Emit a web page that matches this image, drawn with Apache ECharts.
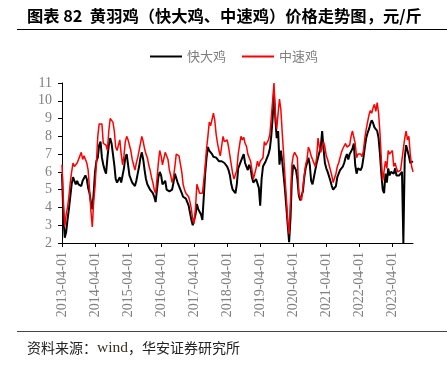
<!DOCTYPE html>
<html><head><meta charset="utf-8">
<script src="https://cdn.jsdelivr.net/npm/echarts@6/dist/echarts.min.js"></script>
<style>html,body{margin:0;padding:0;background:#fff}#c{width:447px;height:367px}</style>
</head><body><div id="c"></div>
<script>
// Semi-monthly observation dates
const dates = [
"2013-04-01","2013-04-16","2013-05-01","2013-05-16","2013-06-01","2013-06-16","2013-07-01","2013-07-16","2013-08-01","2013-08-16","2013-09-01","2013-09-16","2013-10-01","2013-10-16","2013-11-01","2013-11-16","2013-12-01","2013-12-16",
"2014-01-01","2014-01-16","2014-02-01","2014-02-16","2014-03-01","2014-03-16","2014-04-01","2014-04-16","2014-05-01","2014-05-16","2014-06-01","2014-06-16","2014-07-01","2014-07-16","2014-08-01","2014-08-16","2014-09-01","2014-09-16","2014-10-01","2014-10-16","2014-11-01","2014-11-16","2014-12-01","2014-12-16",
"2015-01-01","2015-01-16","2015-02-01","2015-02-16","2015-03-01","2015-03-16","2015-04-01","2015-04-16","2015-05-01","2015-05-16","2015-06-01","2015-06-16","2015-07-01","2015-07-16","2015-08-01","2015-08-16","2015-09-01","2015-09-16","2015-10-01","2015-10-16","2015-11-01","2015-11-16","2015-12-01","2015-12-16",
"2016-01-01","2016-01-16","2016-02-01","2016-02-16","2016-03-01","2016-03-16","2016-04-01","2016-04-16","2016-05-01","2016-05-16","2016-06-01","2016-06-16","2016-07-01","2016-07-16","2016-08-01","2016-08-16","2016-09-01","2016-09-16","2016-10-01","2016-10-16","2016-11-01","2016-11-16","2016-12-01","2016-12-16",
"2017-01-01","2017-01-16","2017-02-01","2017-02-16","2017-03-01","2017-03-16","2017-04-01","2017-04-16","2017-05-01","2017-05-16","2017-06-01","2017-06-16","2017-07-01","2017-07-16","2017-08-01","2017-08-16","2017-09-01","2017-09-16","2017-10-01","2017-10-16","2017-11-01","2017-11-16","2017-12-01","2017-12-16",
"2018-01-01","2018-01-16","2018-02-01","2018-02-16","2018-03-01","2018-03-16","2018-04-01","2018-04-16","2018-05-01","2018-05-16","2018-06-01","2018-06-16","2018-07-01","2018-07-16","2018-08-01","2018-08-16","2018-09-01","2018-09-16","2018-10-01","2018-10-16","2018-11-01","2018-11-16","2018-12-01","2018-12-16",
"2019-01-01","2019-01-16","2019-02-01","2019-02-16","2019-03-01","2019-03-16","2019-04-01","2019-04-16","2019-05-01","2019-05-16","2019-06-01","2019-06-16","2019-07-01","2019-07-16","2019-08-01","2019-08-16","2019-09-01","2019-09-16","2019-10-01","2019-10-16","2019-11-01","2019-11-16","2019-12-01","2019-12-16",
"2020-01-01","2020-01-16","2020-02-01","2020-02-16","2020-03-01","2020-03-16","2020-04-01","2020-04-16","2020-05-01","2020-05-16","2020-06-01","2020-06-16","2020-07-01","2020-07-16","2020-08-01","2020-08-16","2020-09-01","2020-09-16","2020-10-01","2020-10-16","2020-11-01","2020-11-16","2020-12-01","2020-12-16",
"2021-01-01","2021-01-16","2021-02-01","2021-02-16","2021-03-01","2021-03-16","2021-04-01","2021-04-16","2021-05-01","2021-05-16","2021-06-01","2021-06-16","2021-07-01","2021-07-16","2021-08-01","2021-08-16","2021-09-01","2021-09-16","2021-10-01","2021-10-16","2021-11-01","2021-11-16","2021-12-01","2021-12-16",
"2022-01-01","2022-01-16","2022-02-01","2022-02-16","2022-03-01","2022-03-16","2022-04-01","2022-04-16","2022-05-01","2022-05-16","2022-06-01","2022-06-16","2022-07-01","2022-07-16","2022-08-01","2022-08-16","2022-09-01","2022-09-16","2022-10-01","2022-10-16","2022-11-01","2022-11-16","2022-12-01","2022-12-16",
"2023-01-01","2023-01-16","2023-02-01","2023-02-16","2023-03-01","2023-03-16","2023-04-01","2023-04-16","2023-05-01","2023-05-16","2023-06-01","2023-06-16","2023-07-01","2023-07-16","2023-08-01","2023-08-16","2023-09-01","2023-09-16","2023-10-01","2023-10-16","2023-11-01","2023-11-16"
];

// 快大鸡 (black), 元/斤
const fastBreed = [
5.9,3.5,2.3,2.6,3.3,3.9,4.6,5.3,5.7,5.5,
5.3,5.5,5.3,5.4,5.2,5.5,5.6,5.8,5.6,5.1,
4.8,4.3,3.9,4.8,6.0,6.6,6.8,7.5,7.7,6.8,
6.4,6.1,5.9,6.8,7.5,7.9,7.6,7.0,6.4,5.6,
5.4,5.3,
5.7,5.4,5.5,6.2,6.8,7.0,6.4,5.8,5.6,5.4,
5.3,5.2,5.5,5.9,6.3,6.8,7.1,6.7,6.1,5.6,
5.3,5.2,5.0,4.9,4.8,4.6,4.3,5.0,5.7,6.0,
5.8,5.3,5.3,5.5,5.0,5.1,4.9,4.8,5.0,5.4,
5.9,5.8,5.4,5.4,
5.0,4.8,4.6,4.6,4.5,4.3,4.1,3.7,3.3,3.0,
2.9,3.6,4.2,3.9,3.9,3.6,3.3,4.6,5.9,6.8,
7.4,7.2,7.1,7.0,6.85,6.9,6.8,6.7,6.6,6.5,
6.6,6.65,6.5,6.4,6.3,6.1,5.8,5.3,5.0,4.9,
4.8,5.3,6.2,6.4,
6.6,6.8,7.0,6.5,6.3,6.1,6.4,6.2,5.7,5.4,
5.35,5.6,5.7,5.1,4.1,5.6,6.3,6.4,6.6,6.7,
7.0,7.3,8.0,9.0,10.4,9.0,7.9,8.3,6.4,7.2,
6.6,5.8,5.0,4.0,3.0,2.05,3.4,5.6,6.4,6.4,
6.1,5.6,4.7,4.4,
4.4,4.9,5.7,6.2,6.2,6.8,6.4,5.5,5.3,5.7,
6.1,6.5,6.8,7.1,7.4,8.3,7.3,6.5,6.2,6.0,
5.9,5.5,5.2,5.0,4.9,5.2,5.7,5.9,6.1,6.2,
6.3,6.5,6.8,7.0,6.7,7.0,6.9,7.3,7.6,6.4,
5.9,6.2,6.2,
6.1,6.3,6.8,7.4,7.9,8.2,8.4,8.7,8.9,
8.75,8.5,8.4,8.3,7.9,7.0,5.9,5.0,4.8,5.9,
5.4,6.2,5.8,6.0,6.1,5.9,6.2,5.8,5.9,5.8,
5.8,6.0,2.0,6.8,7.5,7.2,6.9,6.5,6.4,6.6
];

// 中速鸡 (red), 元/斤
const mediumBreed = [
6.4,4.4,2.9,3.6,4.0,4.6,5.4,6.0,6.5,6.3,
6.4,6.5,6.5,6.9,7.1,6.7,6.9,6.8,6.5,6.1,
5.0,3.8,2.9,4.3,5.2,6.5,8.0,8.7,8.6,8.7,
7.6,7.7,7.5,7.2,8.3,9.0,9.05,8.8,8.3,7.4,
7.2,7.1,
7.8,7.0,6.4,6.9,7.7,8.0,7.8,7.5,7.2,6.7,
6.4,6.1,6.5,6.8,7.2,7.6,8.0,7.7,7.3,7.0,
6.8,6.4,6.1,5.7,5.4,5.0,4.8,5.6,6.5,7.2,
6.9,6.4,6.5,7.1,7.0,6.7,6.1,5.8,5.4,5.7,
6.3,7.0,7.1,6.9,
6.8,6.0,5.3,5.0,4.8,4.9,4.6,4.3,3.9,3.3,
3.1,4.0,5.3,5.2,4.8,4.7,4.8,5.5,6.3,7.3,
8.0,8.8,8.6,8.6,9.3,8.9,8.1,7.6,7.2,6.9,
6.9,8.0,7.7,7.7,7.8,7.4,6.9,6.4,5.9,5.6,
5.6,6.1,7.0,7.5,
8.0,7.8,7.95,7.6,7.45,7.0,6.8,6.6,6.1,5.6,
5.6,6.2,6.6,6.3,6.6,6.5,6.8,7.7,7.5,7.5,
7.8,8.1,9.0,10.0,11.0,9.2,8.4,9.3,10.1,9.5,
8.2,7.0,5.7,4.5,3.2,2.5,4.4,6.4,6.9,7.1,
7.2,6.8,4.8,4.6,
4.4,5.1,5.8,6.4,6.7,7.4,7.2,6.9,6.7,6.6,
6.3,6.8,7.9,7.4,7.1,7.4,7.7,7.4,6.9,6.7,
6.4,6.1,5.8,5.4,5.5,5.9,6.3,6.5,6.8,7.1,
7.3,7.4,7.6,7.4,7.3,7.5,8.0,8.3,8.4,7.6,
6.8,7.0,7.0,
7.0,6.85,7.2,7.9,8.4,8.8,9.2,9.45,9.3,
9.6,9.8,9.4,9.9,9.3,8.2,6.7,5.5,5.4,6.6,
6.2,7.2,7.0,6.9,7.2,6.3,6.5,6.2,6.0,5.9,
6.1,6.7,7.3,7.9,8.3,7.8,8.0,7.0,6.3,6.0
];

const seriesNames = ['快大鸡', '中速鸡'];
const seriesColors = ['#000000', '#ff0000'];
const titleText = '图表 82  黄羽鸡（快大鸡、中速鸡）价格走势图，元/斤';
const sourceLabel = '资料来源：';
const sourceRest = '，华安证券研究所';

const chart = echarts.init(document.getElementById('c'), null, {renderer: 'canvas'});
const isApril = (i, v) => String(v).slice(5) === '04-01';
chart.setOption({
  animation: false,
  backgroundColor: '#ffffff',
  graphic: [
    {type: 'text', left: 27, top: 8, style: {text: titleText, fill: '#000', font: 'bold 16.3px "Noto Sans CJK SC"'}},
    {type: 'line', shape: {x1: 17, y1: 29.5, x2: 447, y2: 29.5}, style: {stroke: '#000', lineWidth: 1}},
    {type: 'line', shape: {x1: 17, y1: 331.5, x2: 447, y2: 331.5}, style: {stroke: '#444', lineWidth: 1}},
    {type: 'text', left: 27, top: 340, style: {
      text: '{a|' + sourceLabel + '}{b|wind}{a|' + sourceRest + '}',
      rich: {
        a: {fontFamily: 'Noto Sans CJK SC', fontSize: 14, fill: '#222'},
        b: {fontFamily: 'Liberation Serif', fontSize: 15.5, fill: '#3b3020'}
      }
    }}
  ],
  legend: {
    left: 145, top: 45, itemWidth: 32, itemHeight: 2, itemGap: 16, icon: 'rect',
    textStyle: {color: '#7f7f7f', fontSize: 13, fontFamily: 'Noto Sans CJK SC'},
    data: seriesNames
  },
  grid: {left: 62, right: 34, top: 83, bottom: 124, containLabel: false},
  xAxis: {
    type: 'category', data: dates, boundaryGap: false,
    axisLine: {lineStyle: {color: '#000', width: 1}},
    axisTick: {interval: isApril, length: 4, lineStyle: {color: '#000'}},
    axisLabel: {interval: isApril, rotate: 90, margin: 9, color: '#7f7f7f', fontFamily: 'Liberation Serif', fontSize: 14},
    splitLine: {show: false}
  },
  yAxis: {
    type: 'value', min: 2, max: 11, interval: 1,
    axisLine: {show: true, lineStyle: {color: '#000', width: 1}},
    axisTick: {show: true, length: 4, lineStyle: {color: '#000'}},
    axisLabel: {color: '#7f7f7f', fontFamily: 'Liberation Serif', fontSize: 14, margin: 10},
    splitLine: {show: false}
  },
  series: [
    {name: seriesNames[0], type: 'line', data: fastBreed, symbol: 'none', lineStyle: {color: seriesColors[0], width: 2}, itemStyle: {color: seriesColors[0]}},
    {name: seriesNames[1], type: 'line', data: mediumBreed, symbol: 'none', lineStyle: {color: seriesColors[1], width: 1.5}, itemStyle: {color: seriesColors[1]}}
  ]
});
</script>
</body></html>
